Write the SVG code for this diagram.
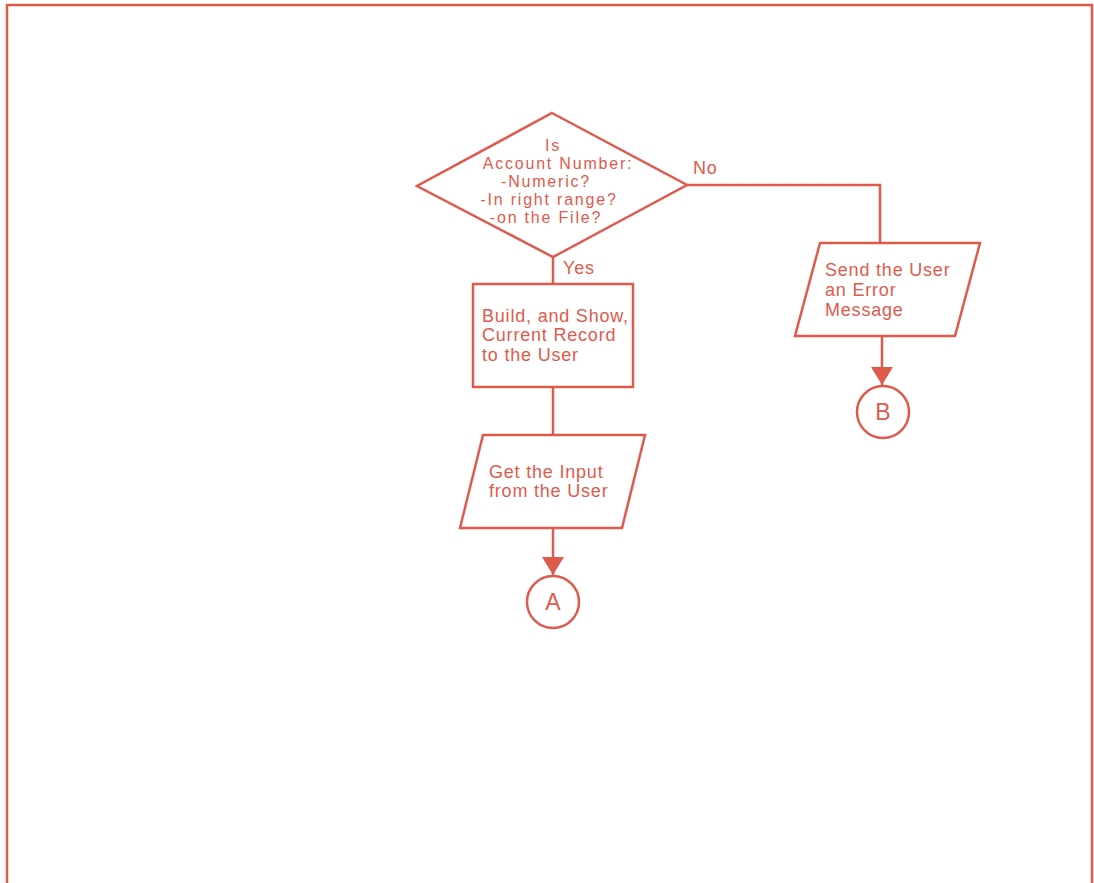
<svg xmlns="http://www.w3.org/2000/svg" width="1094" height="883" viewBox="0 0 1094 883">
<defs>
<style>
.s{fill:none;stroke:#e05a4c;stroke-width:2.5;stroke-linejoin:miter}
.t{font-family:"Liberation Sans",Arial,sans-serif;font-size:18px;fill:#e05a4c;letter-spacing:0.8px}
.d{font-size:16px;letter-spacing:1.8px}
.c{text-anchor:middle}
.big{font-size:23px;letter-spacing:0}
</style>
<marker id="ah2" markerWidth="18" markerHeight="22" refX="18" refY="11" orient="auto" markerUnits="userSpaceOnUse" viewBox="0 0 18 22">
<path d="M0,0 L18,11 L0,22 Z" fill="#e05a4c"/>
</marker>
</defs>
<rect width="1094" height="883" fill="#fff"/>
<path class="s" d="M7,883 L7,5 L1092,5 L1092,883" stroke-width="2"/>
<g id="connectors">
<path class="s" d="M687,185 L880,185 L880,243"/>
<path class="s" d="M553,257 L553,284"/>
<path class="s" d="M553,387 L553,435"/>
<path class="s" d="M882,336 L882,385" marker-end="url(#ah2)"/>
<path class="s" d="M553,528 L553,575" marker-end="url(#ah2)"/>
<text class="t" x="693" y="174">No</text>
<text class="t" x="563" y="274">Yes</text>
</g>
<g id="decision">
<polygon class="s" points="552,113 687,185 553,257 417,186"/>
<text class="t d c" x="553" y="151">Is</text>
<text class="t d c" x="558" y="169">Account Number:</text>
<text class="t d c" x="546" y="187">-Numeric?</text>
<text class="t d c" x="549" y="205">-In right range?</text>
<text class="t d c" x="546" y="223">-on the File?</text>
</g>
<g id="build">
<rect class="s" x="473" y="284" width="160" height="103"/>
<text class="t" x="482" y="322">Build, and Show,</text>
<text class="t" x="482" y="341">Current Record</text>
<text class="t" x="482" y="361">to the User</text>
</g>
<g id="send-error">
<polygon class="s" points="820,243 980,243 955,336 795,336"/>
<text class="t" x="825" y="276">Send the User</text>
<text class="t" x="825" y="296">an Error</text>
<text class="t" x="825" y="316">Message</text>
</g>
<g id="get-input">
<polygon class="s" points="483,435 645,435 622,528 460,528"/>
<text class="t" x="489" y="478">Get the Input</text>
<text class="t" x="489" y="497">from the User</text>
</g>
<g id="connector-a">
<circle class="s" cx="553" cy="602" r="26"/>
<text class="t c big" x="553" y="610">A</text>
</g>
<g id="connector-b">
<circle class="s" cx="883" cy="412" r="26"/>
<text class="t c big" x="883" y="420">B</text>
</g>
</svg>
